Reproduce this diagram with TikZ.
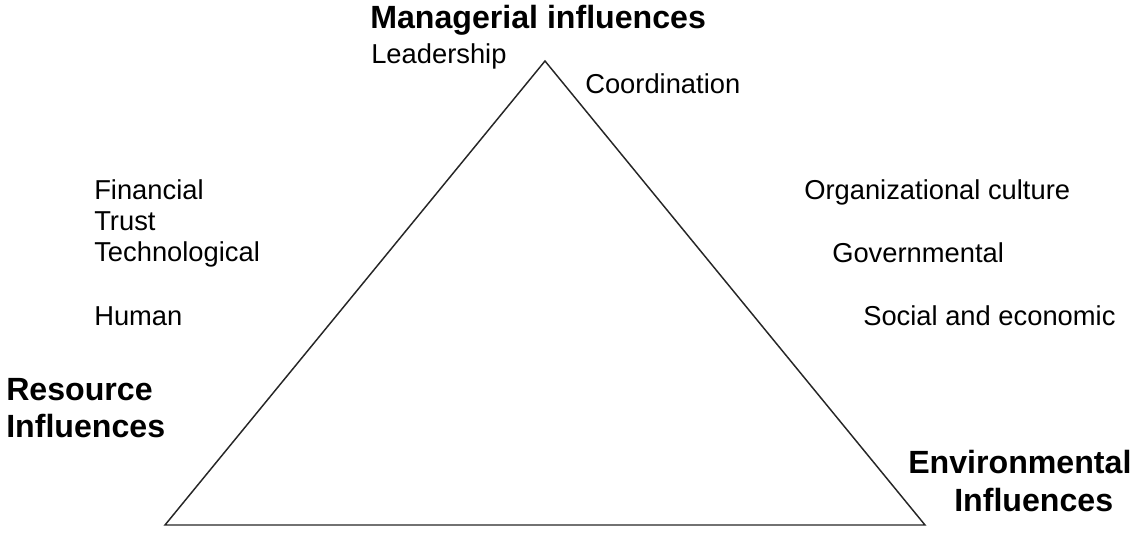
\documentclass[tikz,border=0pt]{standalone}
\usepackage{fontspec}
\setmainfont{Liberation Sans}
\begin{document}
\begin{tikzpicture}[x=0.75pt,y=-0.75pt,
  lbl/.style={inner sep=0pt,anchor=base west,font=\fontsize{20.5}{23}\selectfont},
  head/.style={inner sep=0pt,anchor=base west,font=\fontsize{24.1}{28}\selectfont\bfseries},
  tri/.style={draw=black!85,line width=1.1pt,line join=miter}]
\useasboundingbox (0,0) rectangle (1133,533);
\coordinate (apex) at (545,61);
\coordinate (bl) at (165,525);
\coordinate (br) at (925,525);
\draw[tri] (apex) -- (bl) -- (br) -- cycle;
\node[head] (man) at (370,28) {Managerial influences};
\node[lbl] (lead) at (371,63) {Leadership};
\node[lbl] (coord) at (585,93) {Coordination};
\node[lbl] (fin) at (94,199) {Financial};
\node[lbl] (trust) at (94,230) {Trust};
\node[lbl] (tech) at (94,261) {Technological};
\node[lbl] (hum) at (94,325) {Human};
\node[head] (res1) at (6,400) {Resource};
\node[head] (res2) at (6,437) {Influences};
\node[lbl] (org) at (804,199) {Organizational culture};
\node[lbl] (gov) at (832,262) {Governmental};
\node[lbl] (soc) at (863,325) {Social and economic};
\node[head] (env1) at (908,473) {Environmental};
\node[head] (env2) at (954,511) {Influences};
\end{tikzpicture}
\end{document}
